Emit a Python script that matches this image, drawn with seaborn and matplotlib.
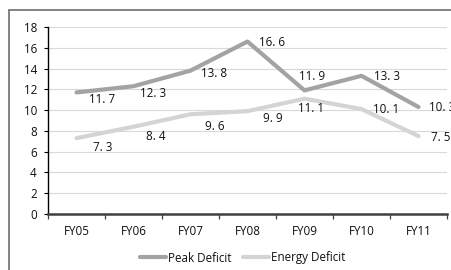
import matplotlib
matplotlib.use("Agg")
import matplotlib.pyplot as plt
from matplotlib.lines import Line2D
import seaborn as sns
import pandas as pd

years = ["FY05", "FY06", "FY07", "FY08", "FY09", "FY10", "FY11"]
peak_deficit = [11.7, 12.3, 13.8, 16.6, 11.9, 13.3, 10.3]
energy_deficit = [7.3, 8.4, 9.6, 9.9, 11.1, 10.1, 7.5]
series_names = ["Peak Deficit", "Energy Deficit"]
y_ticks = [0, 2, 4, 6, 8, 10, 12, 14, 16, 18]

colors = {"Peak Deficit": "#a3a3a3", "Energy Deficit": "#d4d4d4"}
FS = 8.4
# label offsets in pixels (dx, dy)
peak_off = [(26, -7), (20, -7), (24, -3), (25, -1), (8, 14), (26, -1), (24, -1)]
energy_off = [(26, -9), (22, -10), (24, -12), (25, -7), (7, -10), (25, 0), (22, -1)]

sns.set_theme(style="white")
plt.rcParams["font.family"] = ["Open Sans", "DejaVu Sans"]

df = pd.DataFrame({
    "year": years * 2,
    "value": peak_deficit + energy_deficit,
    "series": [series_names[0]] * len(years) + [series_names[1]] * len(years),
})

fig = plt.figure(figsize=(4.52, 2.70), dpi=100)
ax = fig.add_axes([48 / 452, 1 - 214 / 270, (447 - 48) / 452, (214 - 27) / 270])

sns.lineplot(data=df, x="year", y="value", hue="series", palette=colors,
             hue_order=series_names, sort=False, linewidth=3.0, ax=ax,
             legend=False)

ax.set_xlim(-0.5, len(years) - 0.5)
ax.set_ylim(0, 18)
ax.set_yticks(y_ticks)
ax.set_xticks(range(len(years)))
ax.set_xticklabels(years)
ax.set_xticks([i - 0.5 for i in range(len(years) + 1)], minor=True)
ax.set_xlabel("")
ax.set_ylabel("")

ax.grid(axis="y", color="#d9d9d9", linewidth=0.8)
ax.grid(axis="x", visible=False)
ax.set_axisbelow(True)

for s in ["top", "right"]:
    ax.spines[s].set_visible(False)
ax.spines["left"].set_color("black")
ax.spines["left"].set_linewidth(1.0)
ax.spines["bottom"].set_color("#404040")
ax.spines["bottom"].set_linewidth(1.8)
ax.spines["bottom"].set_zorder(5)

ax.tick_params(axis="y", which="major", left=True, length=3, width=0.8,
               color="black", pad=5, labelsize=FS, labelcolor="#111111")
ax.tick_params(axis="x", which="major", bottom=False, length=0, pad=8,
               labelsize=FS, labelcolor="#111111")
ax.tick_params(axis="x", which="minor", bottom=True, length=3.5, width=0.9,
               color="#404040")

def fmt(v):
    return f"{v:.1f}".replace(".", ". ")

for i, (v, off) in enumerate(zip(peak_deficit, peak_off)):
    ax.annotate(fmt(v), (i, v), xytext=off, textcoords="offset pixels",
                ha="center", va="center", fontsize=FS, color="#111111",
                annotation_clip=False)
for i, (v, off) in enumerate(zip(energy_deficit, energy_off)):
    ax.annotate(fmt(v), (i, v), xytext=off, textcoords="offset pixels",
                ha="center", va="center", fontsize=FS, color="#111111",
                annotation_clip=False)

handles = [Line2D([], [], color=colors[n], linewidth=3.0) for n in series_names]
fig.legend(handles, series_names, loc="center",
           bbox_to_anchor=(243 / 452, 1 - 258 / 270), ncol=2, frameon=False,
           fontsize=FS, handlelength=2.2, handletextpad=0.2, columnspacing=1.0,
           labelcolor="#111111")

# outer frame (top and left edges)
fig.add_artist(Line2D([9 / 452, 1.0], [1 - 10 / 270, 1 - 10 / 270],
                      transform=fig.transFigure, color="#6e6e6e", linewidth=1.2))
fig.add_artist(Line2D([9 / 452, 9 / 452], [0, 1 - 10 / 270],
                      transform=fig.transFigure, color="#6e6e6e", linewidth=1.2))

fig.savefig("out.png", dpi=100)
